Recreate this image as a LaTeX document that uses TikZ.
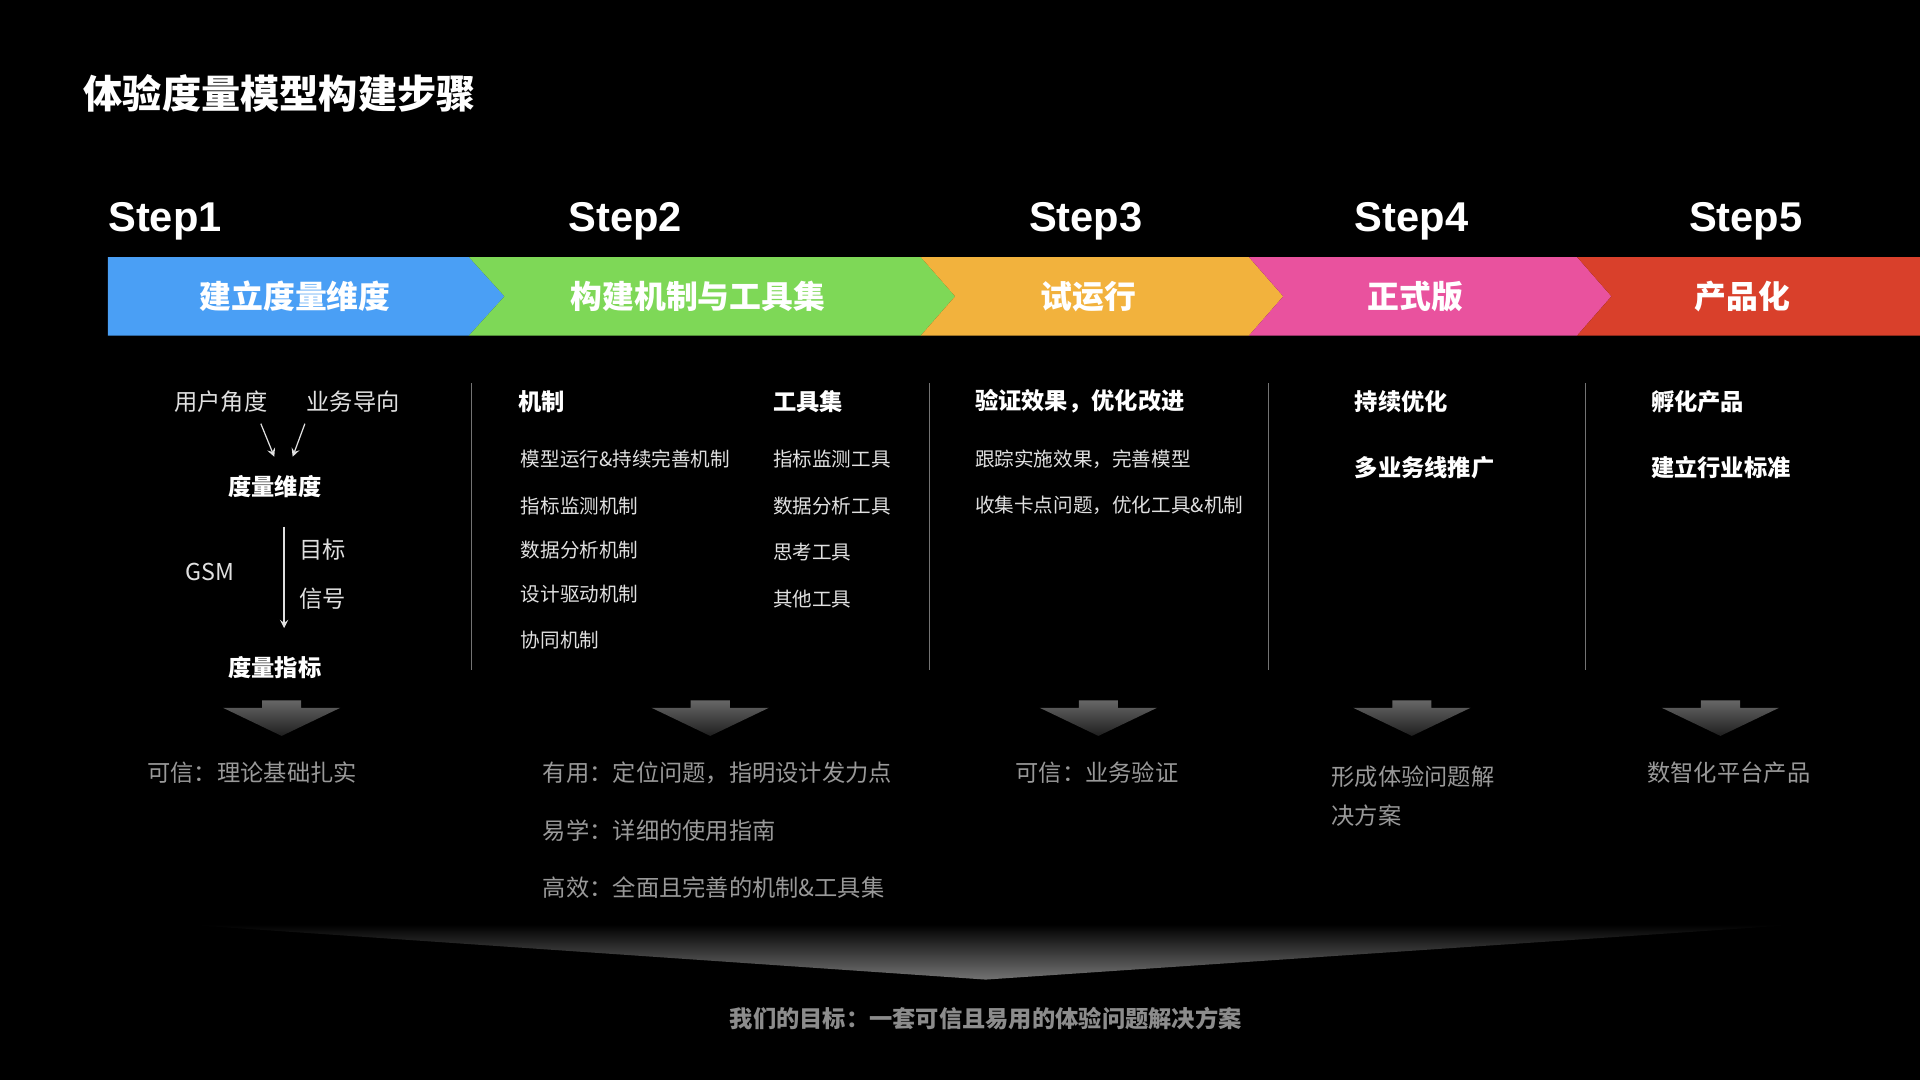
\documentclass[tikz,border=0pt]{standalone}
\usepackage{fontspec}
\setmainfont{Noto Sans CJK SC}
\newfontfamily\stepfont{Liberation Sans}
\begin{document}
\begin{tikzpicture}[x=0.5pt,y=-0.5pt,
  every node/.style={inner xsep=0pt},
  step label/.style={font=\stepfont\fontsize{17}{20}\selectfont\bfseries,anchor=west,text=white},
  band/.style={font=\fontsize{13}{16}\selectfont\bfseries,text=white},
  head/.style={font=\fontsize{9.5}{12}\selectfont\bfseries,text=white,anchor=west},
  item/.style={font=\fontsize{8}{10}\selectfont,text=black!12,anchor=west},
  res/.style={font=\fontsize{9.5}{12}\selectfont,text=black!40,anchor=west},
  sep/.style={draw=black!55,line width=0.6pt},
  darr/.style={top color=black!60,bottom color=black!88,draw=none}]
\fill[black] (0,0) rectangle (1568,882);
\useasboundingbox (0,0) rectangle (1568,882);
\node[anchor=west,text=white,font=\fontsize{16}{19}\selectfont\bfseries] (title) at (68,76) {体验度量模型构建步骤};
% steps
\node[step label] (s1) at (88,181) {Step1};
\node[step label] (s2) at (464,181) {Step2};
\node[step label] (s3) at (840,181) {Step3};
\node[step label] (s4) at (1106,181) {Step4};
\node[step label] (s5) at (1379,181) {Step5};
% band
\fill[fill={rgb,255:red,74;green,159;blue,245}] (88,210) -- (383,210) -- (412,242) -- (383,274) -- (88,274) -- cycle;
\fill[fill={rgb,255:red,126;green,216;blue,87}] (383,210) -- (752,210) -- (780,242) -- (752,274) -- (383,274) -- (412,242) -- cycle;
\fill[fill={rgb,255:red,242;green,178;blue,61}] (752,210) -- (1020,210) -- (1048,242) -- (1020,274) -- (752,274) -- (780,242) -- cycle;
\fill[fill={rgb,255:red,233;green,82;blue,158}] (1020,210) -- (1288,210) -- (1316,242) -- (1288,274) -- (1020,274) -- (1048,242) -- cycle;
\fill[fill={rgb,255:red,217;green,64;blue,43}] (1288,210) -- (1568,210) -- (1568,274) -- (1288,274) -- (1316,242) -- cycle;
\node[band] (b1) at (241,242) {建立度量维度};
\node[band] (b2) at (570,242) {构建机制与工具集};
\node[band] (b3) at (889,242) {试运行};
\node[band] (b4) at (1156,242) {正式版};
\node[band] (b5) at (1423,242) {产品化};
% separators
\foreach \x in {385,759,1036,1295} \draw[sep] (\x,313) -- (\x,547);
% col1
\node[item,font=\fontsize{9.5}{12}\selectfont] (u1) at (142,328) {用户角度};
\node[item,font=\fontsize{9.5}{12}\selectfont] (u2) at (250,328) {业务导向};
\node[head] (dw) at (186,397) {度量维度};
\draw[black!12,->,>=stealth,line width=0.5pt] (213,346) -- (224,373);
\draw[black!12,->,>=stealth,line width=0.5pt] (249,346) -- (239,373);
\node[item,font=\fontsize{9.5}{12}\selectfont] (gsm) at (151,467) {GSM};
\coordinate (ga) at (232,430);
\coordinate (gb) at (232,513);
\draw[black!12,->,>=stealth,line width=0.5pt] (ga) -- (gb);
\node[item,font=\fontsize{9.5}{12}\selectfont] (mb) at (244,449) {目标};
\node[item,font=\fontsize{9.5}{12}\selectfont] (xh) at (244,489) {信号};
\node[head] (zb) at (186,545) {度量指标};
% col2
\node[head] (jz) at (423,328) {机制};
\node[head] (gj) at (631,328) {工具集};
\node[item] at (425,375) {模型运行\&持续完善机制};
\node[item] at (425,413) {指标监测机制};
\node[item] at (425,449) {数据分析机制};
\node[item] at (425,485) {设计驱动机制};
\node[item] at (425,523) {协同机制};
\node[item] at (631,375) {指标监测工具};
\node[item] at (631,413) {数据分析工具};
\node[item] at (631,451) {思考工具};
\node[item] at (631,489) {其他工具};
% col3
\node[head] at (796,328) {验证效果，优化改进};
\node[item] at (796,375) {跟踪实施效果，完善模型};
\node[item] at (796,413) {收集卡点问题，优化工具\&机制};
% col4
\node[head] at (1106,328) {持续优化};
\node[head] at (1106,382) {多业务线推广};
% col5
\node[head] at (1348,328) {孵化产品};
\node[head] at (1348,382) {建立行业标准};
% down arrows
\foreach \x in {230,580,897,1153,1405}
  \fill[darr] (\x-16,572) -- (\x+16,572) -- (\x+16,578) -- (\x+48,578) -- (\x,601) -- (\x-48,578) -- (\x-16,578) -- cycle;
% results
\node[res] at (120,631) {可信：理论基础扎实};
\node[res] at (443,631) {有用：定位问题，指明设计发力点};
\node[res] at (443,678) {易学：详细的使用指南};
\node[res] at (443,725) {高效：全面且完善的机制\&工具集};
\node[res] at (829,631) {可信：业务验证};
\node[res,align=left,text width=150pt] at (1087,650) {形成体验问题解\\[4pt]决方案};
\node[res] at (1345,631) {数智化平台产品};
% funnel
\fill[top color=black,bottom color=black!55,draw=none] (150,755) -- (1470,755) -- (805,800) -- cycle;
\node[font=\fontsize{9.5}{12}\selectfont\bfseries,text=black!45] (goal) at (805,832) {我们的目标：一套可信且易用的体验问题解决方案};
\end{tikzpicture}
\end{document}
